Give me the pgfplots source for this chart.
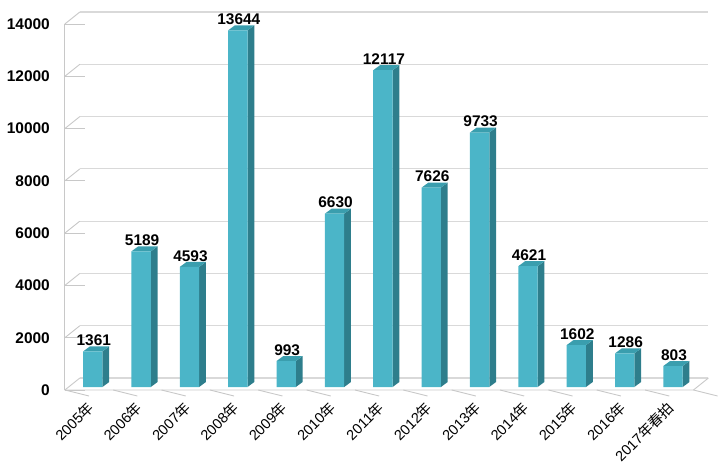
\documentclass[border=0pt]{standalone}
\usepackage{pgfplots}
\pgfplotsset{compat=1.18}
\usepackage{pgfplotstable}
\usepackage{fontspec}
\setmainfont{Liberation Sans}
\newfontfamily\cjkfont{Noto Sans CJK SC}
\newcommand\nian{{\cjkfont 年}}
\definecolor{frontcol}{RGB}{75,181,200}
\definecolor{topcol}{RGB}{58,158,174}
\definecolor{sidecol}{RGB}{46,126,140}
\definecolor{gridcol}{RGB}{217,217,217}
\definecolor{axiscol}{RGB}{200,200,200}
\pgfplotstableread{
x v
0 1361
1 5189
2 4593
3 13644
4 993
5 6630
6 12117
7 7626
8 9733
9 4621
10 1602
11 1286
12 803
}\data
\begin{document}
\begin{tikzpicture}
\begin{axis}[
  scale only axis,
  width=628.6bp, height=366bp,
  xmin=-0.5, xmax=12.5, ymin=0, ymax=14000,
  clip=false,
  axis line style={draw=none},
  major tick length=0pt,
  xtick={0,...,12},
  xticklabels={2005\nian,2006\nian,2007\nian,2008\nian,2009\nian,2010\nian,2011\nian,2012\nian,2013\nian,2014\nian,2015\nian,2016\nian,2017{\cjkfont 年春拍}},
  xticklabel style={xshift=-2bp, yshift=-18bp, rotate=45, anchor=east, inner sep=0pt, font=\fontsize{14.5}{14.5}\selectfont},
  ytick={0,2000,...,14000},
  scaled y ticks=false,
  yticklabel style={anchor=east, inner sep=0pt, xshift=-18.6bp, yshift=-3bp, font=\fontsize{15.5}{16}\selectfont\bfseries},
  /pgf/number format/assume math mode=true,
  /pgf/number format/1000 sep={},
]
% back wall gridlines and diagonals
\pgfplotsinvokeforeach{0,2000,...,14000}{
  \draw[gridcol, line width=1.2bp] ([shift={(11.25bp,9bp)}]axis cs:-0.5,#1) -- ([shift={(11.25bp,9bp)}]axis cs:12.5,#1);
  \draw[axiscol, line width=0.9bp] ([shift={(-3.75bp,-3bp)}]axis cs:-0.5,#1) -- ([shift={(11.25bp,9bp)}]axis cs:-0.5,#1);
  \draw[axiscol, line width=0.9bp] ([shift={(-3.75bp,-3bp)}]axis cs:-0.5,#1) -- ++(-4bp,0);
}
% front y axis
\draw[axiscol, line width=0.9bp] ([shift={(-3.75bp,-3bp)}]axis cs:-0.5,0) -- ([shift={(-3.75bp,-3bp)}]axis cs:-0.5,14000);
% floor
\draw[axiscol, line width=0.9bp] ([shift={(-3.75bp,-3bp)}]axis cs:-0.5,0) -- ([shift={(-3.75bp,-3bp)}]axis cs:12.5,0) -- ([shift={(11.25bp,9bp)}]axis cs:12.5,0);
\pgfplotsinvokeforeach{-0.5,0.5,...,12.5}{
  \draw[axiscol, line width=0.9bp] ([shift={(-3.75bp,-3bp)}]axis cs:#1,0) -- ++(0,-6bp);
}
% 3D faces
\pgfplotsinvokeforeach{0,...,12}{
  \pgfplotstablegetelem{#1}{v}\of\data
  \pgfmathsetmacro\va{\pgfplotsretval}
  \pgfmathsetmacro\vb{\pgfplotsretval+191}
  \pgfmathsetmacro\xa{#1-0.2}
  \pgfmathsetmacro\xb{#1+0.2}
  \pgfmathsetmacro\xc{#1+0.34}
  \pgfmathsetmacro\xd{#1-0.06}
  \edef\tmp{\noexpand\addplot[fill=sidecol, draw=none, forget plot] coordinates {(\xb,0) (\xc,191) (\xc,\vb) (\xb,\va)};
    \noexpand\addplot[fill=topcol, draw=none, forget plot] coordinates {(\xa,\va) (\xb,\va) (\xc,\vb) (\xd,\vb)};}
  \tmp
}
\addplot[ybar, bar width=0.4, fill=frontcol, draw=none,
  nodes near coords,
  every node near coord/.append style={anchor=south, inner sep=0pt, yshift=5.5bp, xshift=1bp, font=\fontsize{15.5}{16}\selectfont\bfseries, text=black},
  point meta=explicit symbolic]
  table[x=x, y=v, meta=v]{\data};
\coordinate (O) at (axis cs:-0.5,0);
\end{axis}
\pgfresetboundingbox
\path (O) ++(-68.6bp,-79bp) rectangle ++(720bp,466bp);
\end{tikzpicture}
\end{document}
